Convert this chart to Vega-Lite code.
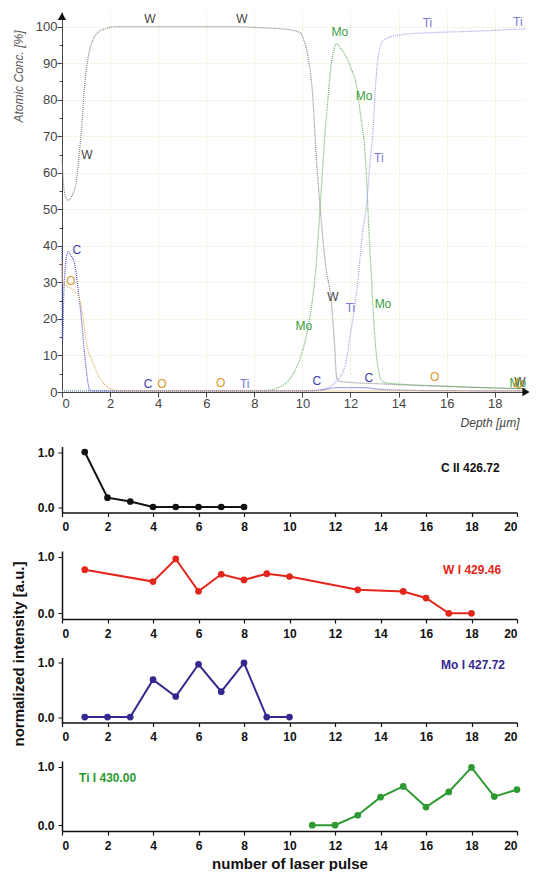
{
  "$schema": "https://vega.github.io/schema/vega-lite/v6.json",
  "background": "white",
  "padding": {"left": 10, "top": 12, "right": 0, "bottom": 0},
  "config": {"font": "Liberation Sans", "view": {"stroke": null}},
  "datasets": {
    "depth": [
      {"el":"W","d":0,"c":64},{"el":"W","d":0.05,"c":58},{"el":"W","d":0.12,"c":54},{"el":"W","d":0.25,"c":52.5},{"el":"W","d":0.4,"c":53.5},{"el":"W","d":0.5,"c":55},{"el":"W","d":0.58,"c":57},{"el":"W","d":0.7,"c":64},{"el":"W","d":0.8,"c":71},{"el":"W","d":0.95,"c":84.6},{"el":"W","d":1.05,"c":90},{"el":"W","d":1.15,"c":93.7},{"el":"W","d":1.3,"c":96.5},{"el":"W","d":1.5,"c":98.4},{"el":"W","d":1.8,"c":99.4},{"el":"W","d":2.2,"c":100},{"el":"W","d":7,"c":100},{"el":"W","d":8,"c":99.8},{"el":"W","d":8.6,"c":99.6},{"el":"W","d":9.4,"c":99.2},{"el":"W","d":9.9,"c":98.4},{"el":"W","d":10.05,"c":96.5},{"el":"W","d":10.23,"c":91.8},{"el":"W","d":10.44,"c":80},{"el":"W","d":10.56,"c":66},{"el":"W","d":10.73,"c":51},{"el":"W","d":10.85,"c":42},{"el":"W","d":10.98,"c":34},{"el":"W","d":11.18,"c":26},{"el":"W","d":11.35,"c":11.5},{"el":"W","d":11.42,"c":4},{"el":"W","d":11.5,"c":3},{"el":"W","d":12,"c":2.6},{"el":"W","d":13,"c":2.3},{"el":"W","d":14,"c":2},{"el":"W","d":16,"c":1.5},{"el":"W","d":18,"c":1.1},{"el":"W","d":19.3,"c":0.9},
      {"el":"Mo","d":0,"c":0.3},{"el":"Mo","d":8,"c":0.3},{"el":"Mo","d":8.6,"c":0.5},{"el":"Mo","d":9.0,"c":1.2},{"el":"Mo","d":9.4,"c":3},{"el":"Mo","d":9.7,"c":6},{"el":"Mo","d":9.95,"c":10},{"el":"Mo","d":10.15,"c":15},{"el":"Mo","d":10.3,"c":20},{"el":"Mo","d":10.45,"c":27},{"el":"Mo","d":10.56,"c":34},{"el":"Mo","d":10.65,"c":42},{"el":"Mo","d":10.73,"c":50},{"el":"Mo","d":10.85,"c":62},{"el":"Mo","d":10.94,"c":71},{"el":"Mo","d":11.06,"c":80},{"el":"Mo","d":11.18,"c":89},{"el":"Mo","d":11.3,"c":93.5},{"el":"Mo","d":11.42,"c":95.3},{"el":"Mo","d":11.6,"c":94},{"el":"Mo","d":12.0,"c":89},{"el":"Mo","d":12.3,"c":82},{"el":"Mo","d":12.43,"c":75},{"el":"Mo","d":12.6,"c":66},{"el":"Mo","d":12.68,"c":57},{"el":"Mo","d":12.74,"c":48},{"el":"Mo","d":12.85,"c":34},{"el":"Mo","d":13.0,"c":16},{"el":"Mo","d":13.14,"c":7},{"el":"Mo","d":13.27,"c":3.3},{"el":"Mo","d":13.5,"c":2.5},{"el":"Mo","d":14,"c":2.2},{"el":"Mo","d":16,"c":1.6},{"el":"Mo","d":18,"c":1.1},{"el":"Mo","d":19.3,"c":0.9},
      {"el":"Ti","d":0,"c":0.2},{"el":"Ti","d":10.5,"c":0.3},{"el":"Ti","d":11.0,"c":1},{"el":"Ti","d":11.35,"c":2.5},{"el":"Ti","d":11.77,"c":7},{"el":"Ti","d":12.0,"c":16},{"el":"Ti","d":12.3,"c":30},{"el":"Ti","d":12.5,"c":43.5},{"el":"Ti","d":12.68,"c":52},{"el":"Ti","d":12.8,"c":62},{"el":"Ti","d":12.93,"c":71},{"el":"Ti","d":13.05,"c":84.6},{"el":"Ti","d":13.2,"c":93.7},{"el":"Ti","d":13.4,"c":96.4},{"el":"Ti","d":14.1,"c":97.8},{"el":"Ti","d":15.2,"c":98.3},{"el":"Ti","d":17,"c":98.7},{"el":"Ti","d":19.3,"c":99.4},
      {"el":"C","d":0,"c":40},{"el":"C","d":0.02,"c":14},{"el":"C","d":0.08,"c":28},{"el":"C","d":0.15,"c":35},{"el":"C","d":0.25,"c":38.4},{"el":"C","d":0.35,"c":37.5},{"el":"C","d":0.53,"c":35},{"el":"C","d":0.67,"c":28},{"el":"C","d":0.8,"c":20.5},{"el":"C","d":0.95,"c":9.6},{"el":"C","d":1.08,"c":2.5},{"el":"C","d":1.15,"c":0.5},{"el":"C","d":1.4,"c":0.3},{"el":"C","d":10,"c":0.3},{"el":"C","d":10.8,"c":0.6},{"el":"C","d":11.5,"c":1.2},{"el":"C","d":12.5,"c":1.2},{"el":"C","d":13.3,"c":0.7},{"el":"C","d":15,"c":0.4},{"el":"C","d":19.3,"c":0.3},
      {"el":"O","d":0,"c":36},{"el":"O","d":0.03,"c":30},{"el":"O","d":0.2,"c":29},{"el":"O","d":0.46,"c":28},{"el":"O","d":0.75,"c":25},{"el":"O","d":0.87,"c":20.5},{"el":"O","d":1.0,"c":14},{"el":"O","d":1.29,"c":8},{"el":"O","d":1.62,"c":3.3},{"el":"O","d":2.2,"c":0.5},{"el":"O","d":2.6,"c":0.3},{"el":"O","d":19.3,"c":0.3}
    ],
    "toplabels": [
      {"el":"W","d":3.66,"c":102,"t":"W"},{"el":"W","d":7.48,"c":102,"t":"W"},{"el":"W","d":1.04,"c":65,"t":"W"},{"el":"W","d":11.27,"c":26,"t":"W"},{"el":"W","d":19.05,"c":2.8,"t":"W"},
      {"el":"Mo","d":11.56,"c":98.4,"t":"Mo"},{"el":"Mo","d":12.56,"c":81,"t":"Mo"},{"el":"Mo","d":10.06,"c":18,"t":"Mo"},{"el":"Mo","d":13.35,"c":24,"t":"Mo"},{"el":"Mo","d":18.96,"c":2.5,"t":"Mo"},
      {"el":"Ti","d":15.2,"c":101,"t":"Ti"},{"el":"Ti","d":18.96,"c":101.4,"t":"Ti"},{"el":"Ti","d":13.18,"c":64,"t":"Ti"},{"el":"Ti","d":12.0,"c":23,"t":"Ti"},{"el":"Ti","d":7.6,"c":2.2,"t":"Ti"},
      {"el":"C","d":0.62,"c":39,"t":"C"},{"el":"C","d":3.58,"c":2.2,"t":"C"},{"el":"C","d":10.6,"c":3,"t":"C"},{"el":"C","d":12.76,"c":3.8,"t":"C"},
      {"el":"O","d":0.37,"c":30.4,"t":"O"},{"el":"O","d":4.16,"c":2.2,"t":"O"},{"el":"O","d":6.6,"c":2.5,"t":"O"},{"el":"O","d":15.5,"c":4.1,"t":"O"},{"el":"O","d":19.0,"c":2.2,"t":"O"}
    ],
    "arrows": [
      {"d":0,"c":102.8,"s":"up"},{"d":19.3,"c":0,"s":"right"}
    ],
    "pC": [
      {"p":1,"v":1.0},{"p":2,"v":0.17},{"p":3,"v":0.1},{"p":4,"v":0},{"p":5,"v":0},{"p":6,"v":0},{"p":7,"v":0},{"p":8,"v":0}
    ],
    "pW": [
      {"p":1,"v":0.77},{"p":4,"v":0.56},{"p":5,"v":0.96},{"p":6,"v":0.39},{"p":7,"v":0.69},{"p":8,"v":0.59},{"p":9,"v":0.7},{"p":10,"v":0.65},{"p":13,"v":0.415},{"p":15,"v":0.386},{"p":16,"v":0.27},{"p":17,"v":0},{"p":18,"v":0}
    ],
    "pMo": [
      {"p":1,"v":0},{"p":2,"v":0},{"p":3,"v":0},{"p":4,"v":0.69},{"p":5,"v":0.38},{"p":6,"v":0.975},{"p":7,"v":0.47},{"p":8,"v":1.0},{"p":9,"v":0},{"p":10,"v":0}
    ],
    "pTi": [
      {"p":11,"v":0},{"p":12,"v":0},{"p":13,"v":0.17},{"p":14,"v":0.48},{"p":15,"v":0.665},{"p":16,"v":0.31},{"p":17,"v":0.57},{"p":18,"v":0.99},{"p":19,"v":0.49},{"p":20,"v":0.61}
    ]
  },
  "vconcat": [
    {
      "width": 464,
      "height": 380,
      "layer": [
        {
          "data": {"name": "depth"},
          "mark": {"type": "line", "strokeWidth": 1.2, "strokeDash": [1, 1], "interpolate": "monotone"},
          "encoding": {
            "x": {"field": "d", "type": "quantitative", "scale": {"domain": [0, 19.3], "nice": false, "zero": false},
              "axis": {"values": [0,1,2,3,4,5,6,7,8,9,10,11,12,13,14,15,16,17,18,19], "labelExpr": "datum.value % 2 == 0 ? datum.label : ''",
                "grid": true, "gridColor": "#e9edcf", "gridDash": [2, 2], "tickSize": 5, "tickColor": "#444", "domainColor": "#444",
                "labelFontSize": 13, "labelColor": "#444", "labelPadding": 0,
                "title": "Depth [µm]", "titleFontStyle": "italic", "titleFontWeight": "normal", "titleFontSize": 12, "titleColor": "#444",
                "titleX": 457, "titleY": 30, "titleAlign": "right", "titleBaseline": "middle"}},
            "y": {"field": "c", "type": "quantitative", "scale": {"domain": [0, 104], "nice": false},
              "axis": {"values": [0,10,20,30,40,50,60,70,80,90,100], "grid": true, "gridColor": "#e9edcf", "gridDash": [2, 2],
                "tickSize": 5, "tickColor": "#444", "domainColor": "#444", "labelFontSize": 13, "labelColor": "#444", "labelPadding": 0,
                "title": "Atomic Conc. [%]", "titleFontStyle": "italic", "titleFontWeight": "normal", "titleFontSize": 12, "titleColor": "#555",
                "titleX": -44, "titleY": 64, "titleAngle": -90, "titleAlign": "center", "titleBaseline": "middle"}},
            "color": {"field": "el", "type": "nominal", "scale": {"domain": ["W","Mo","Ti","C","O"], "range": ["#858585","#62b062","#a0a0e8","#5050c8","#e4ae5c"]}, "legend": null}
          }
        },
        {
          "data": {"name": "toplabels"},
          "mark": {"type": "text", "fontSize": 12, "align": "center", "baseline": "middle"},
          "encoding": {
            "x": {"field": "d", "type": "quantitative"},
            "y": {"field": "c", "type": "quantitative", "axis": null},
            "text": {"field": "t"},
            "color": {"field": "el", "type": "nominal", "scale": {"domain": ["W","Mo","Ti","C","O"], "range": ["#444444","#3c9c3c","#7a7ad8","#3c3cb0","#d8962c"]}, "legend": null}
          }
        },
        {
          "data": {"name": "arrows"},
          "mark": {"type": "point", "filled": true, "color": "#111", "size": 70, "opacity": 1, "clip": false},
          "encoding": {
            "x": {"field": "d", "type": "quantitative"},
            "y": {"field": "c", "type": "quantitative",
              "axis": {"orient": "left", "values": [5,15,25,35,45,55,65,75,85,95], "labels": false, "domain": false, "grid": false, "tickSize": 3, "tickColor": "#444", "title": null}},
            "shape": {"field": "s", "type": "nominal", "scale": {"domain": ["up","right"], "range": ["triangle-up","triangle-right"]}, "legend": null}
          }
        }
      ],
      "resolve": {"scale": {"color": "independent"}, "axis": {"y": "independent"}}
    },
    {
      "bounds": "flush",
      "spacing": 38.5,
      "vconcat": [
        {
          "width": 455, "height": 66,
          "layer": [
            {"data": {"name": "pC"}, "mark": {"type": "line", "color": "#111", "strokeWidth": 2},
              "encoding": {
                "x": {"field": "p", "type": "quantitative", "scale": {"domain": [0, 20], "nice": false},
                  "axis": {"values": [0,1,2,3,4,5,6,7,8,9,10,11,12,13,14,15,16,17,18,19,20], "labelExpr": "datum.value % 2 == 0 ? datum.label : ''", "grid": false, "tickSize": 4, "tickWidth": 1.2, "tickColor": "#111", "domainColor": "#111", "domainWidth": 1.5, "labelFontWeight": "bold", "labelFontSize": 12, "labelColor": "#111", "labelPadding": 5, "title": null}},
                "y": {"field": "v", "type": "quantitative", "scale": {"domain": [-0.1, 1.1], "nice": false},
                  "axis": {"values": [0, 0.25, 0.5, 0.75, 1], "labelExpr": "datum.value % 0.5 == 0 ? format(datum.value, '.1f') : ''", "grid": false, "tickSize": 4, "tickColor": "#111", "domainColor": "#111", "domainWidth": 1.5, "labelFontWeight": "bold", "labelFontSize": 12, "labelColor": "#111", "labelPadding": 4, "title": null}}
              }},
            {"data": {"name": "pC"}, "mark": {"type": "point", "filled": true, "color": "#111", "size": 45, "opacity": 1},
              "encoding": {"x": {"field": "p", "type": "quantitative"}, "y": {"field": "v", "type": "quantitative"}}},
            {"data": {"values": [{"p": 16.66, "v": 0.71, "t": "C II 426.72"}]}, "mark": {"type": "text", "align": "left", "baseline": "middle", "fontWeight": "bold", "fontSize": 12, "color": "#111"},
              "encoding": {"x": {"field": "p", "type": "quantitative"}, "y": {"field": "v", "type": "quantitative"}, "text": {"field": "t"}}}
          ]
        },
        {
          "width": 455, "height": 68,
          "layer": [
            {"data": {"name": "pW"}, "mark": {"type": "line", "color": "#e3261b", "strokeWidth": 2},
              "encoding": {
                "x": {"field": "p", "type": "quantitative", "scale": {"domain": [0, 20], "nice": false},
                  "axis": {"values": [0,1,2,3,4,5,6,7,8,9,10,11,12,13,14,15,16,17,18,19,20], "labelExpr": "datum.value % 2 == 0 ? datum.label : ''", "grid": false, "tickSize": 4, "tickWidth": 1.2, "tickColor": "#111", "domainColor": "#111", "domainWidth": 1.5, "labelFontWeight": "bold", "labelFontSize": 12, "labelColor": "#111", "labelPadding": 5, "title": null}},
                "y": {"field": "v", "type": "quantitative", "scale": {"domain": [-0.1, 1.1], "nice": false},
                  "axis": {"values": [0, 0.25, 0.5, 0.75, 1], "labelExpr": "datum.value % 0.5 == 0 ? format(datum.value, '.1f') : ''", "grid": false, "tickSize": 4, "tickColor": "#111", "domainColor": "#111", "domainWidth": 1.5, "labelFontWeight": "bold", "labelFontSize": 12, "labelColor": "#111", "labelPadding": 4, "title": null}}
              }},
            {"data": {"name": "pW"}, "mark": {"type": "point", "filled": true, "color": "#e3261b", "size": 45, "opacity": 1},
              "encoding": {"x": {"field": "p", "type": "quantitative"}, "y": {"field": "v", "type": "quantitative"}}},
            {"data": {"values": [{"p": 16.75, "v": 0.77, "t": "W I 429.46"}]}, "mark": {"type": "text", "align": "left", "baseline": "middle", "fontWeight": "bold", "fontSize": 12, "color": "#e3261b"},
              "encoding": {"x": {"field": "p", "type": "quantitative"}, "y": {"field": "v", "type": "quantitative"}, "text": {"field": "t"}}}
          ]
        },
        {
          "width": 455, "height": 65,
          "layer": [
            {"data": {"name": "pMo"}, "mark": {"type": "line", "color": "#34288e", "strokeWidth": 2},
              "encoding": {
                "x": {"field": "p", "type": "quantitative", "scale": {"domain": [0, 20], "nice": false},
                  "axis": {"values": [0,1,2,3,4,5,6,7,8,9,10,11,12,13,14,15,16,17,18,19,20], "labelExpr": "datum.value % 2 == 0 ? datum.label : ''", "grid": false, "tickSize": 4, "tickWidth": 1.2, "tickColor": "#111", "domainColor": "#111", "domainWidth": 1.5, "labelFontWeight": "bold", "labelFontSize": 12, "labelColor": "#111", "labelPadding": 5, "title": null}},
                "y": {"field": "v", "type": "quantitative", "scale": {"domain": [-0.1, 1.1], "nice": false},
                  "axis": {"values": [0, 0.25, 0.5, 0.75, 1], "labelExpr": "datum.value % 0.5 == 0 ? format(datum.value, '.1f') : ''", "grid": false, "tickSize": 4, "tickColor": "#111", "domainColor": "#111", "domainWidth": 1.5, "labelFontWeight": "bold", "labelFontSize": 12, "labelColor": "#111", "labelPadding": 4,
                    "title": "normalized intensity [a.u.]", "titleFontWeight": "bold", "titleFontSize": 15, "titleColor": "#111", "titleX": -44, "titleY": -4, "titleAngle": -90, "titleAlign": "center", "titleBaseline": "middle"}}
              }},
            {"data": {"name": "pMo"}, "mark": {"type": "point", "filled": true, "color": "#34288e", "size": 45, "opacity": 1},
              "encoding": {"x": {"field": "p", "type": "quantitative"}, "y": {"field": "v", "type": "quantitative"}}},
            {"data": {"values": [{"p": 16.66, "v": 0.96, "t": "Mo I 427.72"}]}, "mark": {"type": "text", "align": "left", "baseline": "middle", "fontWeight": "bold", "fontSize": 12, "color": "#34288e"},
              "encoding": {"x": {"field": "p", "type": "quantitative"}, "y": {"field": "v", "type": "quantitative"}, "text": {"field": "t"}}}
          ]
        },
        {
          "width": 455, "height": 70,
          "layer": [
            {"data": {"name": "pTi"}, "mark": {"type": "line", "color": "#2c9a30", "strokeWidth": 2},
              "encoding": {
                "x": {"field": "p", "type": "quantitative", "scale": {"domain": [0, 20], "nice": false},
                  "axis": {"values": [0,1,2,3,4,5,6,7,8,9,10,11,12,13,14,15,16,17,18,19,20], "labelExpr": "datum.value % 2 == 0 ? datum.label : ''", "grid": false, "tickSize": 4, "tickWidth": 1.2, "tickColor": "#111", "domainColor": "#111", "domainWidth": 1.5, "labelFontWeight": "bold", "labelFontSize": 12, "labelColor": "#111", "labelPadding": 5,
                    "title": "number of laser pulse", "titleFontWeight": "bold", "titleFontSize": 15, "titleColor": "#111", "titlePadding": 5}},
                "y": {"field": "v", "type": "quantitative", "scale": {"domain": [-0.1, 1.1], "nice": false},
                  "axis": {"values": [0, 0.25, 0.5, 0.75, 1], "labelExpr": "datum.value % 0.5 == 0 ? format(datum.value, '.1f') : ''", "grid": false, "tickSize": 4, "tickColor": "#111", "domainColor": "#111", "domainWidth": 1.5, "labelFontWeight": "bold", "labelFontSize": 12, "labelColor": "#111", "labelPadding": 4, "title": null}}
              }},
            {"data": {"name": "pTi"}, "mark": {"type": "point", "filled": true, "color": "#2c9a30", "size": 45, "opacity": 1},
              "encoding": {"x": {"field": "p", "type": "quantitative"}, "y": {"field": "v", "type": "quantitative"}}},
            {"data": {"values": [{"p": 0.75, "v": 0.81, "t": "Ti I 430.00"}]}, "mark": {"type": "text", "align": "left", "baseline": "middle", "fontWeight": "bold", "fontSize": 12, "color": "#2c9a30"},
              "encoding": {"x": {"field": "p", "type": "quantitative"}, "y": {"field": "v", "type": "quantitative"}, "text": {"field": "t"}}}
          ]
        }
      ]
    }
  ],
  "bounds": "flush",
  "spacing": 54.5
}
